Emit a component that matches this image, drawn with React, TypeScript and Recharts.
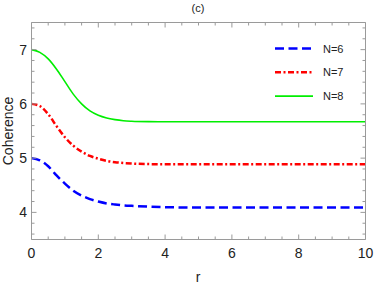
import React from 'react';
import { LineChart, Line, XAxis, YAxis } from 'recharts';

const rValues = [0, 0.25, 0.5, 0.75, 1, 1.25, 1.5, 1.75, 2, 2.25, 2.5, 2.75, 3, 3.5, 4, 5, 6, 7, 8, 9, 10];
const n6 = [5, 4.96, 4.85, 4.68, 4.53, 4.4, 4.31, 4.245, 4.2, 4.165, 4.145, 4.13, 4.12, 4.105, 4.095, 4.09, 4.09, 4.09, 4.09, 4.09, 4.09];
const n7 = [6, 5.96, 5.81, 5.59, 5.385, 5.23, 5.12, 5.04, 4.99, 4.95, 4.925, 4.91, 4.9, 4.89, 4.887, 4.885, 4.885, 4.885, 4.885, 4.885, 4.885];
const n8 = [7, 6.95, 6.83, 6.64, 6.41, 6.18, 6.0, 5.87, 5.79, 5.74, 5.71, 5.69, 5.68, 5.672, 5.67, 5.67, 5.67, 5.67, 5.67, 5.67, 5.67];

const xTicks = [0, 0.5, 1, 1.5, 2, 2.5, 3, 3.5, 4, 4.5, 5, 5.5, 6, 6.5, 7, 7.5, 8, 8.5, 9, 9.5, 10];
const xLabels = [0, 2, 4, 6, 8, 10];
const yTicks = [3.6, 3.8, 4, 4.2, 4.4, 4.6, 4.8, 5, 5.2, 5.4, 5.6, 5.8, 6, 6.2, 6.4, 6.6, 6.8, 7, 7.2, 7.4];
const yLabels = [4, 5, 6, 7];

const seriesNames = ['N=6', 'N=7', 'N=8'];
const seriesKeys = ['n6', 'n7', 'n8'];
const seriesColors = ['#0000ff', '#ff0000', '#00ee00'];
const seriesDash = ['9 4.5', '6 2.5 2 2.5', undefined];
const seriesWidth = [2.5, 2.5, 1.6];
const seriesXAxis = ['bottom', 'bottom', 'top'];
const seriesYAxis = ['left', 'left', 'right'];

const data = rValues.map((r, i) => ({ r, n6: n6[i], n7: n7[i], n8: n8[i] }));

const FONT = '"Liberation Sans", Arial, sans-serif';
const AXIS = '#9a9a9a';
const MAJOR = 5;
const MINOR = 3;

const isLabelX = (v: number) => xLabels.some((l) => Math.abs(l - v) < 1e-6);
const isLabelY = (v: number) => yLabels.some((l) => Math.abs(l - v) < 1e-6);

const BottomTick = (props: any) => {
  const { x, y, payload } = props;
  const major = isLabelX(payload.value);
  return (
    <g>
      <path d={`M${x},${y}V${y - (major ? MAJOR : MINOR)}`} stroke={AXIS} strokeWidth={1} fill="none" />
      {major && (
        <text x={x} y={y + 18.5} textAnchor="middle" fontSize={14} fontFamily={FONT} fill="#222">
          {payload.value}
        </text>
      )}
    </g>
  );
};

const TopTick = (props: any) => {
  const { x, y, payload } = props;
  const major = isLabelX(payload.value);
  return <path d={`M${x},${y}V${y + (major ? MAJOR : MINOR)}`} stroke={AXIS} strokeWidth={1} fill="none" />;
};

const LeftTick = (props: any) => {
  const { x, y, payload } = props;
  const major = isLabelY(payload.value);
  return (
    <g>
      <path d={`M${x},${y}H${x + (major ? MAJOR : MINOR)}`} stroke={AXIS} strokeWidth={1} fill="none" />
      {major && (
        <text x={x - 4.5} y={y + 5} textAnchor="end" fontSize={14} fontFamily={FONT} fill="#222">
          {payload.value}
        </text>
      )}
    </g>
  );
};

const RightTick = (props: any) => {
  const { x, y, payload } = props;
  const major = isLabelY(payload.value);
  return <path d={`M${x},${y}H${x - (major ? MAJOR : MINOR)}`} stroke={AXIS} strokeWidth={1} fill="none" />;
};

const LegendBox = () => (
  <svg width={100} height={70} style={{ position: 'absolute', left: 270, top: 38, display: 'block' }}>
    {seriesNames.map((name, i) => (
      <g key={name}>
        <line
          x1={5}
          x2={43}
          y1={10.5 + i * 23.8}
          y2={10.5 + i * 23.8}
          stroke={seriesColors[i]}
          strokeWidth={seriesWidth[i]}
          strokeDasharray={seriesDash[i]}
        />
        <text x={53} y={10.5 + i * 23.8 + 4} fontSize={11} fontFamily={FONT} fill="#222">
          {name}
        </text>
      </g>
    ))}
  </svg>
);

const axisLineStyle = { stroke: AXIS, strokeWidth: 1 };

export default function App() {
  return (
    <div style={{ position: 'absolute', left: 0, top: 0, width: 374, height: 284, background: '#fff' }}>
      <LineChart width={374} height={284} data={data} margin={{ top: 21.5, right: 7.5, left: 6.5, bottom: 0 }}>
        <XAxis
          xAxisId="bottom"
          dataKey="r"
          type="number"
          domain={[0, 10]}
          ticks={xTicks}
          interval={0}
          height={44.5}
          tickSize={0}
          tickMargin={0}
          tickLine={false}
          axisLine={axisLineStyle}
          tick={<BottomTick />}
        />
        <XAxis
          xAxisId="top"
          dataKey="r"
          orientation="top"
          type="number"
          domain={[0, 10]}
          ticks={xTicks}
          interval={0}
          height={1}
          tickSize={0}
          tickMargin={0}
          tickLine={false}
          axisLine={axisLineStyle}
          tick={<TopTick />}
        />
        <YAxis
          yAxisId="left"
          type="number"
          domain={[3.5, 7.5]}
          ticks={yTicks}
          interval={0}
          width={25}
          tickSize={0}
          tickMargin={0}
          tickLine={false}
          axisLine={axisLineStyle}
          tick={<LeftTick />}
        />
        <YAxis
          yAxisId="right"
          orientation="right"
          type="number"
          domain={[3.5, 7.5]}
          ticks={yTicks}
          interval={0}
          width={1}
          tickSize={0}
          tickMargin={0}
          tickLine={false}
          axisLine={axisLineStyle}
          tick={<RightTick />}
        />
        {seriesKeys.map((k, i) => (
          <Line
            key={k}
            xAxisId={seriesXAxis[i]}
            yAxisId={seriesYAxis[i]}
            dataKey={k}
            name={seriesNames[i]}
            type="monotone"
            stroke={seriesColors[i]}
            strokeWidth={seriesWidth[i]}
            strokeDasharray={seriesDash[i]}
            dot={false}
            activeDot={false}
            isAnimationActive={false}
          />
        ))}
      </LineChart>
      <LegendBox />
      <div
        style={{
          position: 'absolute',
          left: 198,
          top: 8,
          transform: 'translate(-50%, -50%)',
          fontFamily: FONT,
          fontSize: 11,
          color: '#222',
          whiteSpace: 'nowrap',
        }}
      >
        (c)
      </div>
      <div
        style={{
          position: 'absolute',
          left: 198,
          top: 277,
          transform: 'translate(-50%, -50%)',
          fontFamily: FONT,
          fontSize: 14,
          color: '#222',
          whiteSpace: 'nowrap',
        }}
      >
        r
      </div>
      <div
        style={{
          position: 'absolute',
          left: 8,
          top: 130.5,
          transform: 'translate(-50%, -50%) rotate(-90deg)',
          fontFamily: FONT,
          fontSize: 14,
          lineHeight: '14px',
          color: '#222',
          whiteSpace: 'nowrap',
        }}
      >
        Coherence
      </div>
    </div>
  );
}
